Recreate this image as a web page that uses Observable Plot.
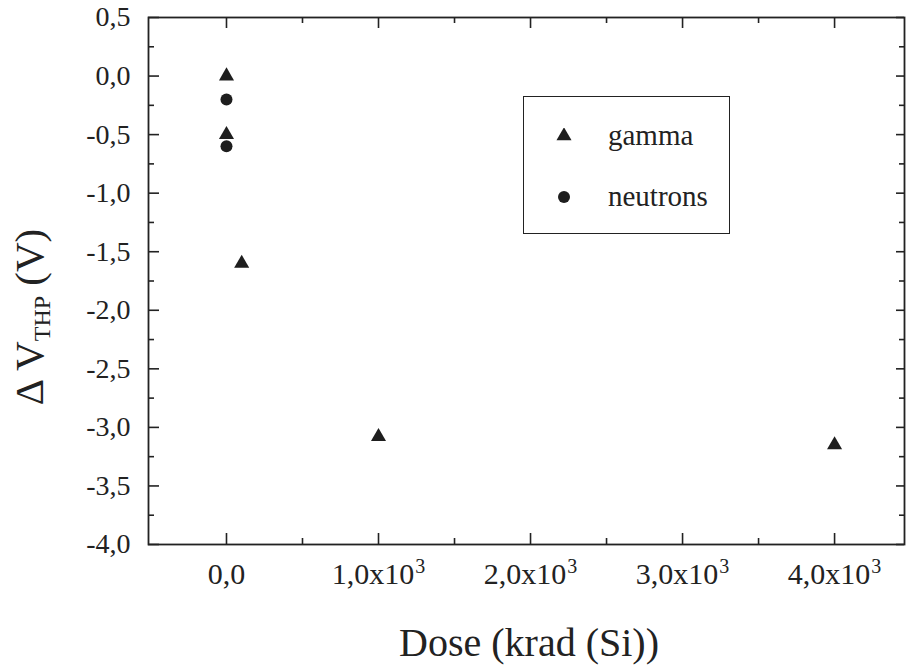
<!DOCTYPE html>
<html>
<head>
<meta charset="utf-8">
<script src="https://cdn.jsdelivr.net/npm/d3@7"></script>
<script src="https://cdn.jsdelivr.net/npm/@observablehq/plot@0.6"></script>
<style>
  html, body { margin: 0; padding: 0; background: #fff; }
  #wrap { position: relative; width: 907px; height: 670px; font-family: "Liberation Serif", "Times New Roman", serif; color: #222; }
  #legend { position: absolute; left: 523px; top: 96px; width: 207px; height: 138px; border: 1.6px solid #222; box-sizing: border-box; background: #fff; }
  .row { position: absolute; left: 0; display: flex; align-items: center; font-size: 29px; font-family: "Liberation Serif", "Times New Roman", serif; }
  .row svg { margin-left: 32px; margin-right: 36px; }
</style>
</head>
<body>
<div id="wrap"></div>
<script>
// ---- data ----
const gammaDose = [0, 0, 100, 1000, 4000];
const gammaShift = [0.0, -0.5, -1.6, -3.08, -3.15];
const neutronDose = [0, 0];
const neutronShift = [-0.2, -0.6];
const xMajorTicks = [0, 1000, 2000, 3000, 4000];
const xMinorTicks = [500, 1500, 2500, 3500];
const yMajorTicks = [0.5, 0.0, -0.5, -1.0, -1.5, -2.0, -2.5, -3.0, -3.5, -4.0];
const yMinorTicks = [0.25, -0.25, -0.75, -1.25, -1.75, -2.25, -2.75, -3.25, -3.75];
const seriesNames = ["gamma", "neutrons"];
const xLabel = "Dose (krad (Si))";

const gamma = gammaDose.map((d, i) => ({dose: d, shift: gammaShift[i]}));
const neutrons = neutronDose.map((d, i) => ({dose: d, shift: neutronShift[i]}));

const W = 907, H = 670, mL = 148, mR = 3, mT = 17, mB = 126;
const FW = W - mL - mR, FH = H - mT - mB;
const ink = "#222";
const serif = "'Liberation Serif', 'Times New Roman', serif";
const fmtY = d => d.toFixed(1).replace(".", ",");
const fmtX = d => d === 0 ? "0,0" : (d / 1000).toFixed(1).replace(".", ",") + "x10^3";

const chart = Plot.plot({
  width: W, height: H,
  marginLeft: mL, marginRight: mR, marginTop: mT, marginBottom: mB,
  style: `font-family: ${serif}; font-size: 28px; color: ${ink}; background: #fff;`,
  x: {domain: [-513, 4460]},
  y: {domain: [-4, 0.5]},
  marks: [
    Plot.axisX({ticks: xMajorTicks, tickSize: 0, tickPadding: 18, tickFormat: fmtX, label: null, fontSize: 30, fontFamily: serif, fill: ink}),
    Plot.axisY({ticks: yMajorTicks, tickSize: 0, tickPadding: 18, tickFormat: fmtY, label: null, fontSize: 28, fontFamily: serif, fill: ink}),
    // inward ticks: bottom & top
    Plot.ruleX(xMajorTicks, {stroke: ink, strokeWidth: 1.6, insetTop: FH - 11}),
    Plot.ruleX(xMinorTicks, {stroke: ink, strokeWidth: 1.6, insetTop: FH - 6}),
    Plot.ruleX(xMajorTicks, {stroke: ink, strokeWidth: 1.6, insetBottom: FH - 11}),
    Plot.ruleX(xMinorTicks, {stroke: ink, strokeWidth: 1.6, insetBottom: FH - 6}),
    // inward ticks: left & right
    Plot.ruleY(yMajorTicks, {stroke: ink, strokeWidth: 1.6, insetRight: FW - 11}),
    Plot.ruleY(yMinorTicks, {stroke: ink, strokeWidth: 1.6, insetRight: FW - 6}),
    Plot.ruleY(yMajorTicks, {stroke: ink, strokeWidth: 1.6, insetLeft: FW - 8}),
    Plot.ruleY(yMinorTicks, {stroke: ink, strokeWidth: 1.6, insetLeft: FW - 5}),
    Plot.frame({stroke: ink, strokeWidth: 1.8}),
    Plot.dot(gamma, {x: "dose", y: "shift", symbol: "triangle", r: 5.6, fill: "#1e1e1e", stroke: "none"}),
    Plot.dot(neutrons, {x: "dose", y: "shift", symbol: "circle", r: 6, fill: "#1e1e1e", stroke: "none"})
  ]
});

const svg = d3.select(chart);
// superscript exponents in x tick labels
svg.selectAll("text").each(function() {
  const t = this.textContent;
  if (t.includes("^")) {
    const [base, exp] = t.split("^");
    const sel = d3.select(this);
    sel.text(null);
    sel.append("tspan").text(base);
    sel.append("tspan").attr("font-size", 20).attr("dx", 1).attr("dy", -11).text(exp);
  }
});
// y label with subscript
const yl = svg.append("text")
  .attr("transform", "translate(43,317) rotate(-90)")
  .attr("text-anchor", "middle")
  .attr("fill", ink)
  .attr("font-family", serif)
  .attr("font-size", 41);
yl.append("tspan").text("\u0394 V");
yl.append("tspan").attr("font-size", 24).attr("dy", 7).text("THP");
yl.append("tspan").attr("dy", -7).text(" (V)");
// x label
svg.append("text")
  .attr("x", 529).attr("y", 656)
  .attr("text-anchor", "middle")
  .attr("fill", ink)
  .attr("font-family", serif)
  .attr("font-size", 40)
  .text(xLabel);

const wrap = document.getElementById("wrap");
wrap.appendChild(chart);

// legend
const legend = document.createElement("div");
legend.id = "legend";
legend.innerHTML = `
  <div class="row" style="top:22px"><svg width="16" height="16" viewBox="-8 -8 16 16"><path d="${d3.symbol(d3.symbolTriangle, Math.PI * 5.6 * 5.6)()}" fill="#1e1e1e"/></svg><span>${seriesNames[0]}</span></div>
  <div class="row" style="top:83px"><svg width="16" height="16" viewBox="-8 -8 16 16"><circle r="6" fill="#1e1e1e"/></svg><span>${seriesNames[1]}</span></div>`;
wrap.appendChild(legend);
</script>
</body>
</html>
